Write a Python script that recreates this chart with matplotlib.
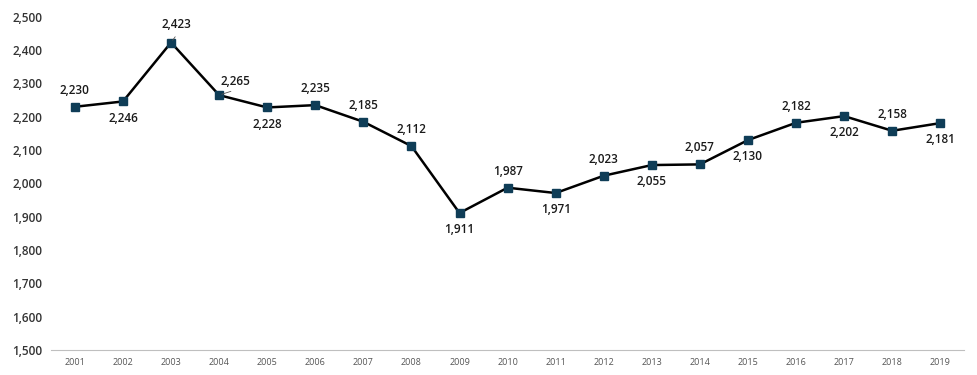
import numpy as np
import matplotlib
matplotlib.use('Agg')
import matplotlib.pyplot as plt

years = [str(y) for y in range(2001, 2020)]
values = [2230, 2246, 2423, 2265, 2228, 2235, 2185, 2112, 1911, 1987,
          1971, 2023, 2055, 2057, 2130, 2182, 2202, 2158, 2181]
# label placement: 1 = above, -1 = below
label_pos = [1, -1, 1, 1, -1, 1, 1, 1, -1, 1, -1, 1, -1, 1, -1, 1, -1, 1, -1]

plt.rcParams['font.family'] = ['Open Sans', 'DejaVu Sans']

fig = plt.figure(figsize=(9.78, 3.75), dpi=100)
ax = fig.add_axes([0.052, 0.067, 0.934, 0.888])

x = np.arange(len(years))
ax.plot(x, values, color='black', lw=1.8, marker='s', ms=6,
        markerfacecolor='#0f3d57', markeredgecolor='#0f3d57', zorder=3)

for i, (v, p) in enumerate(zip(values, label_pos)):
    dx, dy = 0, 12 * p
    if i == 2:
        dx, dy = 4, 13
        ax.annotate('', xy=(i, v), xytext=(i + 0.12, v + 24),
                    arrowprops=dict(arrowstyle='-', color='#555555', lw=0.6))
    if i == 3:
        dx, dy = 12, 10
        ax.annotate('', xy=(i, v), xytext=(i + 0.3, v + 14),
                    arrowprops=dict(arrowstyle='-', color='#555555', lw=0.6))
    ax.annotate(f'{v:,}', (i, v), textcoords='offset points', xytext=(dx, dy),
                ha='center', va='center', fontsize=8.5, fontweight='semibold',
                color='#1a1a1a')

ax.set_xlim(-0.5, len(years) - 0.5)
ax.set_ylim(1500, 2500)
ax.set_xticks(x)
ax.set_xticklabels(years, fontsize=6.5, color='#555555')
ax.set_yticks(np.arange(1500, 2501, 100))
ax.set_yticklabels([f'{t:,}' for t in range(1500, 2501, 100)],
                   fontsize=8.5, color='#333333', fontweight='semibold')
ax.tick_params(axis='both', length=0, pad=6)
ax.tick_params(axis='y', pad=6)
for s in ['top', 'right', 'left']:
    ax.spines[s].set_visible(False)
ax.spines['bottom'].set_color('#bfbfbf')

fig.savefig('out.png', dpi=100)
